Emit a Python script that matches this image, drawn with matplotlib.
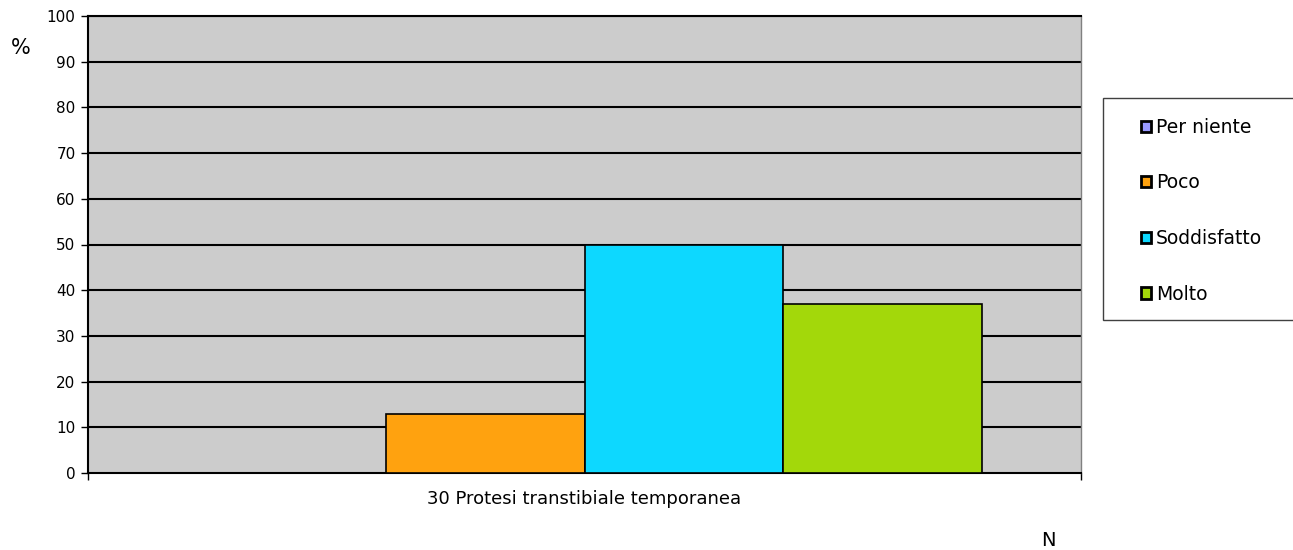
import matplotlib.pyplot as plt
from matplotlib.patches import Rectangle

# data
series = ['Per niente', 'Poco', 'Soddisfatto', 'Molto']
values = [0, 13, 50, 37]
colors = ['#9999FF', '#FFA20F', '#0DD8FF', '#A3D80A']
category = '30 Protesi transtibiale temporanea'
yticks = list(range(0, 101, 10))

fig = plt.figure(figsize=(12.93, 5.5), dpi=100)
W, H = 1293, 550
ax = fig.add_axes([88 / W, 1 - 473 / H, (1081 - 88) / W, (473 - 16) / H])
ax.set_facecolor('#CCCCCC')

width = 0.2
offsets = [-0.3, -0.1, 0.1, 0.3]
handles = []
for name, val, col, off in zip(series, values, colors, offsets):
    b = ax.bar(off, val, width=width, color=col, edgecolor='black', linewidth=1.2,
               label=name, zorder=3)
    handles.append(b)

ax.set_xlim(-0.5, 0.5)
ax.set_ylim(0, 100)
ax.set_yticks(yticks)
ax.tick_params(axis='y', direction='out', length=5, width=1, labelsize=11, pad=4)
for y in yticks[1:]:
    ax.axhline(y, color='black', linewidth=1.5, zorder=1)

ax.set_xticks([0])
ax.set_xticklabels([category], fontsize=13)
ax.tick_params(axis='x', length=0, pad=12)
ax.set_xticks([-0.5, 0.5], minor=True)
ax.tick_params(axis='x', which='minor', direction='out', length=5, width=1)

ax.spines['left'].set_color('black')
ax.spines['left'].set_linewidth(1.5)
ax.spines['bottom'].set_color('black')
ax.spines['bottom'].set_linewidth(1.5)
ax.spines['top'].set_color('black')
ax.spines['top'].set_linewidth(1.5)
ax.spines['right'].set_color('#808080')
ax.spines['right'].set_linewidth(1)

fig.text(11 / W, 1 - 48 / H, '%', fontsize=15, va='center', ha='left')
fig.text(1048 / W, 1 - 540 / H, 'N', fontsize=14, va='center', ha='center')

# legend box
fig.patches.append(Rectangle((1103 / W, 1 - 320 / H), 200 / W, 222 / H,
                             transform=fig.transFigure, facecolor='white',
                             edgecolor='#404040', linewidth=1))
leg = fig.legend(handles=handles, labels=series, loc='upper left',
                 bbox_to_anchor=(1124 / W, 1 - 101 / H), frameon=False,
                 fontsize=13.5, handlelength=0.55, handleheight=0.55,
                 handletextpad=0.25, labelspacing=1.95)
for p in leg.get_patches():
    p.set_linewidth(2)

fig.savefig('out.png', dpi=100)
